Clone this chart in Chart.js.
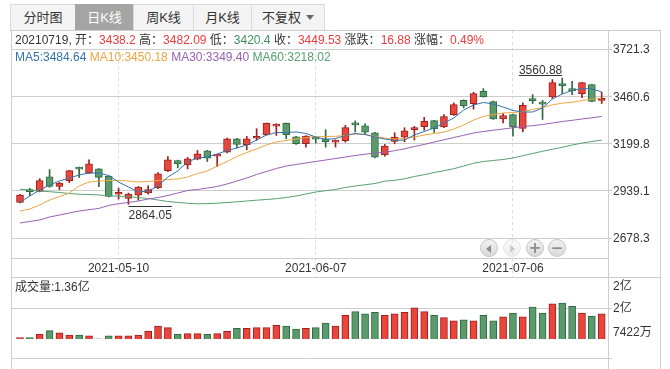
<!DOCTYPE html>
<html lang="zh-CN">
<head>
<meta charset="utf-8">
<title>日K线</title>
<script src="https://cdn.jsdelivr.net/npm/chart.js@4.4.1/dist/chart.umd.min.js"></script>
<style>
  html, body { margin: 0; padding: 0; background: #fff; }
  body { width: 670px; height: 369px; position: relative; overflow: hidden;
         font-family: "Liberation Sans", "Noto Sans CJK SC", sans-serif; font-size: 12px; color: #333; }
  canvas { position: absolute; left: 0; top: 0; }
  .tabs { position: absolute; left: 10px; top: 4px; height: 26px; display: flex; }
  .tab { box-sizing: border-box; height: 26px; line-height: 25px; border: 1px solid #dadada; border-bottom: none;
         margin-right: -1px; background: #f4f4f4; font-size: 13px; text-align: center; color: #333; }
  .tab.on { background: #a5a5a5; color: #fff; border-color: #a5a5a5; }
  .caret { display: inline-block; border-left: 4px solid transparent; border-right: 4px solid transparent;
           border-top: 5px solid #666; vertical-align: middle; margin-left: 5px; margin-top: -2px; }
  .row { position: absolute; left: 15px; white-space: nowrap; line-height: 14px; }
  .up { color: #ee3b3b; }
  .down { color: #3d8f5d; }
  .nav { position: absolute; top: 239px; width: 18px; height: 18px; box-sizing: border-box; border: 1px solid #c4c4c4;
         border-radius: 50%; background: linear-gradient(#f2f2f2, #d9d9d9); color: #8c8c8c;
         font: bold 15px/16px "DejaVu Sans", sans-serif; text-align: center; }
  .nav.off { opacity: .45; }
  .tri-l, .tri-r { display: inline-block; margin-top: 4px; border-top: 4px solid transparent; border-bottom: 4px solid transparent; }
  .tri-l { border-right: 5px solid #8c8c8c; margin-left: -1px; }
  .tri-r { border-left: 5px solid #8c8c8c; margin-left: 1px; }
</style>
</head>
<body>
<canvas id="kChart" width="670" height="369"></canvas>
<canvas id="volChart" width="670" height="369"></canvas>

<div class="tabs">
  <div class="tab" style="width:66px">分时图</div>
  <div class="tab on" style="width:59px">日K线</div>
  <div class="tab" style="width:61px">周K线</div>
  <div class="tab" style="width:59px">月K线</div>
  <div class="tab" style="width:74px">不复权<span class="caret"></span></div>
</div>
<div class="row" id="info" style="top:33px"></div>
<div class="row" id="maInfo" style="top:50px"></div>
<div class="row" id="volInfo" style="top:280px"></div>

<div class="nav" style="left:480px"><i class="tri-l"></i></div>
<div class="nav off" style="left:503px"><i class="tri-r"></i></div>
<div class="nav" style="left:526px">+</div>
<div class="nav" style="left:548px">&minus;</div>

<script>
'use strict';
// DATA
var dates = ['2021-04-21','2021-04-22','2021-04-23','2021-04-26','2021-04-27','2021-04-28','2021-04-29','2021-04-30',
  '2021-05-06','2021-05-07','2021-05-10','2021-05-11','2021-05-12','2021-05-13','2021-05-14',
  '2021-05-17','2021-05-18','2021-05-19','2021-05-20','2021-05-21',
  '2021-05-24','2021-05-25','2021-05-26','2021-05-27','2021-05-28','2021-05-31',
  '2021-06-01','2021-06-02','2021-06-03','2021-06-04',
  '2021-06-07','2021-06-08','2021-06-09','2021-06-10','2021-06-11',
  '2021-06-15','2021-06-16','2021-06-17','2021-06-18',
  '2021-06-21','2021-06-22','2021-06-23','2021-06-24','2021-06-25',
  '2021-06-28','2021-06-29','2021-06-30','2021-07-01','2021-07-02',
  '2021-07-05','2021-07-06','2021-07-07','2021-07-08','2021-07-09',
  '2021-07-12','2021-07-13','2021-07-14','2021-07-15','2021-07-16','2021-07-19'];

var openPx = [2874.6, 2937, 2935.7, 3015.2, 2963.4, 2994.8, 3061, 3037.4, 3059.5, 3020.7,
  2919.5, 2896.8, 2915.3, 2926.4, 2954.2, 3050.3, 3105.8, 3081.7, 3113.2, 3159.4,
  3129.8, 3152, 3226, 3192.7, 3229, 3248.1, 3296, 3311, 3237, 3198.2,
  3235.2, 3226, 3207, 3214.9, 3305.5, 3298, 3259.2, 3137.2, 3211.2, 3235.2,
  3276, 3292.5, 3325.8, 3290.7, 3359, 3438.6, 3420.2, 3488.2, 3431.2, 3335.8,
  3359.6, 3282.5, 3438.5, 3419, 3456.9, 3522, 3495, 3475.3, 3524.9, 3438.2];
var highPx = [2919, 2952.3, 3006, 3055.8, 2985, 3052, 3069, 3109.5, 3062, 3022,
  2954, 2926.4, 2962, 2967, 3039.2, 3128, 3108, 3123, 3161.2, 3162,
  3139, 3230, 3228, 3239, 3281.4, 3313, 3309, 3313, 3240, 3243,
  3237, 3276, 3220.4, 3300, 3324, 3309, 3261, 3194.5, 3259.2, 3287,
  3294.4, 3344.3, 3328, 3359, 3423.8, 3441, 3482.6, 3502.9, 3434, 3365.1,
  3362, 3423.9, 3469.8, 3438.6, 3552.4, 3560.88, 3543.2, 3538, 3527, 3482.09];
var lowPx = [2872, 2911.6, 2933, 2958, 2945, 2983.7, 3013, 3035, 2961.5, 2905,
  2893, 2864.05, 2887.6, 2920, 2950, 3045, 3065, 3059.5, 3110, 3100.2,
  3072.5, 3148, 3176, 3165, 3216.7, 3246, 3244.4, 3226, 3195, 3179.7,
  3202, 3179.7, 3179.7, 3207, 3263, 3248, 3120, 3129.8, 3198.2, 3209,
  3218.6, 3272.2, 3261, 3287, 3355, 3396.4, 3389, 3456, 3333, 3313.7,
  3240.3, 3264.2, 3420.2, 3332.1, 3447.8, 3475.3, 3469.8, 3453.3, 3430, 3420.4];
var closePx = [2915.3, 2934, 2994.8, 2963.4, 2981.9, 3050.3, 3058, 3087.3, 3013.3, 2907.9,
  2922, 2920.9, 2959.7, 2944.9, 3031.8, 3109.5, 3087.3, 3115, 3142.7, 3118.7,
  3137.2, 3226, 3194.5, 3226, 3232, 3311, 3298, 3248.1, 3198.2, 3240.7,
  3224.1, 3209.3, 3209, 3287, 3303, 3263, 3124.3, 3185.3, 3235.2, 3270.3,
  3283, 3322.1, 3281.4, 3348, 3414.6, 3407.4, 3475.3, 3458.8, 3335.8, 3354.1,
  3291.7, 3411, 3436, 3417, 3535.9, 3519, 3492, 3535.9, 3432.65, 3449.53];

var ma5 = [2877.0, 2910.1, 2943.2, 2970.8, 2992.9, 3009.4, 3026.0, 3037.0, 3037.0, 3023.2,
  2987.3, 2959.8, 2932.2, 2937.7, 2965.3, 3014.9, 3048.1, 3098.6, 3119.8, 3125.3,
  3141.9, 3161.2, 3175.0, 3191.5, 3219.1, 3246.7, 3260.5, 3260.5, 3263.3, 3255.0,
  3235.7, 3221.9, 3227.4, 3244.0, 3255.0, 3249.5, 3235.7, 3224.6, 3216.4, 3219.1,
  3246.7, 3266.0, 3285.3, 3312.9, 3340.5, 3384.7, 3412.3, 3426.1, 3417.8, 3401.2,
  3381.9, 3373.6, 3373.6, 3395.7, 3445.4, 3473.0, 3492.3, 3503.3, 3500.6, 3484.64];
var ma10 = [2827.3, 2838.3, 2860.4, 2888.0, 2907.3, 2926.6, 2965.3, 2987.3, 2992.9, 2995.6,
  2995.6, 2992.9, 2987.3, 2990.1, 2995.6, 3001.1, 3003.9, 3014.9, 3034.3, 3048.6,
  3075.2, 3100.2, 3128.1, 3150.1, 3169.5, 3191.5, 3208.1, 3216.4, 3224.6, 3232.9,
  3237.3, 3238.4, 3239.5, 3244.0, 3252.2, 3249.5, 3238.4, 3230.2, 3224.6, 3227.4,
  3235.7, 3246.7, 3255.0, 3263.3, 3279.8, 3301.9, 3329.5, 3348.8, 3359.8, 3368.1,
  3370.9, 3375.3, 3387.4, 3398.5, 3413.4, 3422.2, 3427.2, 3437.1, 3444.3, 3450.18];
var ma30 = [2761.1, 2769.4, 2777.6, 2794.2, 2805.2, 2816.3, 2827.3, 2834.5, 2841.7, 2857.7,
  2867.6, 2874.2, 2882.5, 2893.5, 2901.8, 2912.8, 2926.6, 2940.4, 2946.0, 2954.2,
  2962.5, 2976.3, 2992.9, 3009.4, 3028.7, 3045.3, 3061.8, 3075.6, 3083.9, 3092.2,
  3100.5, 3108.8, 3117.0, 3125.3, 3133.6, 3140.8, 3147.4, 3151.8, 3160.1, 3170.6,
  3183.3, 3194.3, 3208.1, 3220.2, 3232.9, 3245.1, 3257.8, 3266.0, 3273.2, 3279.8,
  3286.4, 3293.6, 3298.0, 3304.7, 3312.9, 3321.2, 3327.8, 3335.0, 3341.6, 3349.40];
var ma60 = [2947.6, 2943.2, 2937.7, 2933.8, 2929.4, 2923.9, 2920.0, 2918.4, 2915.6, 2911.7,
  2909.0, 2906.2, 2901.8, 2896.3, 2888.0, 2879.7, 2874.2, 2869.8, 2867.0, 2868.1,
  2870.4, 2874.2, 2878.1, 2882.5, 2886.9, 2890.8, 2895.2, 2901.8, 2910.1, 2921.1,
  2932.2, 2939.3, 2946.0, 2957.0, 2965.3, 2971.9, 2979.1, 2991.8, 2996.7, 3005.0,
  3017.7, 3027.6, 3039.8, 3049.7, 3060.7, 3075.6, 3090.5, 3100.5, 3106.0, 3111.5,
  3119.8, 3132.5, 3144.6, 3156.8, 3167.8, 3178.8, 3191.5, 3202.0, 3210.8, 3218.02];

// 成交量 (亿)
var volume = [0.78, 0.78, 0.855, 0.948, 0.892, 0.836, 0.836, 0.817, 0.748, 0.817,
  0.817, 0.817, 0.836, 0.929, 1.06, 1.023, 0.855, 0.873, 0.873, 0.855,
  0.873, 0.929, 1.004, 1.004, 1.023, 1.023, 1.079, 1.06, 0.986, 1.004,
  1.023, 1.135, 1.06, 1.322, 1.416, 1.36, 1.397, 1.322, 1.36, 1.397,
  1.51, 1.416, 1.322, 1.266, 1.191, 1.21, 1.191, 1.322, 1.191, 1.285,
  1.379, 1.285, 1.528, 1.379, 1.603, 1.622, 1.547, 1.379, 1.304, 1.36];

var dateTicks = ['2021-05-10', '2021-06-07', '2021-07-06'];
var priceTicks = [3721.3, 3460.55, 3199.8, 2939.05, 2678.3];
var priceTickLabels = ['3721.3', '3460.6', '3199.8', '2939.1', '2678.3'];
var volTickLabels = ['7422万', '2亿', '2亿'];

// COLORS
var FONT = '"Liberation Sans", "Noto Sans CJK SC", sans-serif';
var UP_FILL = '#e8463b', UP_LINE = '#9e1f1f';
var DN_FILL = '#5a9a6c', DN_LINE = '#2e6a3e';
var GRID = '#cdcdcd';
var MA_COLORS = ['#3473ad', '#eda53f', '#9a5fb4', '#56a070'];

Chart.defaults.font.family = FONT;
Chart.defaults.font.size = 12;
Chart.defaults.color = '#333';

var isUp = closePx.map(function(c, i) { return c >= openPx[i]; });
var fills = isUp.map(function(u) { return u ? UP_FILL : DN_FILL; });
var lines = isUp.map(function(u) { return u ? UP_LINE : DN_LINE; });

function pts(arr) {
  return arr.map(function(v, i) { return { x: i, y: v }; });
}

// HEADER TEXT
var last = dates.length - 1;
var chg = closePx[last] - closePx[last - 1];
document.getElementById('info').innerHTML =
  dates[last].replace(/-/g, '') + ', 开：<span class="up">' + openPx[last] + '</span>' +
  ' 高：<span class="up">' + highPx[last] + '</span>' +
  ' 低：<span class="down">' + lowPx[last] + '</span>' +
  ' 收：<span class="up">' + closePx[last] + '</span>' +
  ' 涨跌：<span class="up">' + chg.toFixed(2) + '</span>' +
  ' 涨幅：<span class="up">' + (chg / closePx[last - 1] * 100).toFixed(2) + '%</span>';
document.getElementById('maInfo').innerHTML = [['MA5', ma5], ['MA10', ma10], ['MA30', ma30], ['MA60', ma60]]
  .map(function(m, k) {
    return '<span style="color:' + MA_COLORS[k] + '">' + m[0] + ':' + m[1][last].toFixed(2) + '</span>';
  }).join(' ');
document.getElementById('volInfo').textContent = '成交量:' + volume[last] + '亿';

// X AXIS (shared) - offset off, otherwise bar charts pad the linear axis
function xAxis(show) {
  return {
    type: 'linear', min: -0.913, max: 59.64, display: show, offset: false,
    afterBuildTicks: function(s) {
      s.ticks = dateTicks.map(function(d) { return { value: dates.indexOf(d) }; });
    },
    ticks: { callback: function(v) { return dates[v]; }, padding: -16, maxRotation: 0, autoSkip: false },
    grid: { offset: false, color: '#dcdcdc', tickLength: 19, tickColor: '#dcdcdc', tickBorderDash: [3, 3] },
    border: { display: false, dash: [3, 3] },
    afterFit: function(s) { s.height = 19; }
  };
}

// HIGH / LOW LABELS
var hiLoLabel = {
  id: 'hiLoLabel',
  afterDatasetsDraw: function(chart) {
    var ctx = chart.ctx, xs = chart.scales.x, ys = chart.scales.y;
    var hi = Math.max.apply(null, highPx), lo = Math.min.apply(null, lowPx);
    var hiI = highPx.indexOf(hi), loI = lowPx.indexOf(lo);
    ctx.save();
    ctx.font = '12px ' + FONT;
    ctx.fillStyle = '#333';
    ctx.strokeStyle = '#333';
    ctx.lineWidth = 1;
    ctx.textBaseline = 'alphabetic';
    var t = hi.toFixed(2), w = ctx.measureText(t).width;
    var x = xs.getPixelForValue(hiI), y = ys.getPixelForValue(hi);
    ctx.fillText(t, x - w, y - 4.5);
    ctx.beginPath();
    ctx.moveTo(x - w, Math.round(y - 3) + 0.5);
    ctx.lineTo(x, Math.round(y - 3) + 0.5);
    ctx.stroke();
    t = lo.toFixed(2); w = ctx.measureText(t).width;
    x = xs.getPixelForValue(loI); y = ys.getPixelForValue(lo);
    ctx.fillText(t, x, y + 14.5);
    ctx.beginPath();
    ctx.moveTo(x, Math.round(y + 2) + 0.5);
    ctx.lineTo(x + w, Math.round(y + 2) + 0.5);
    ctx.stroke();
    ctx.restore();
  }
};

// FRAME LINES
var frame = {
  id: 'frame',
  afterDraw: function(chart) {
    var ctx = chart.ctx;
    var segs = [
      [11.5, 30, 11.5, 369], [608.5, 30, 608.5, 369], [660.5, 30, 660.5, 369],
      [10, 30.5, 661, 30.5], [11, 258.5, 608, 258.5], [11, 277.5, 661, 277.5], [11, 358.5, 612, 358.5]
    ];
    ctx.save();
    ctx.strokeStyle = GRID;
    ctx.lineWidth = 1;
    segs.forEach(function(s) {
      ctx.beginPath();
      ctx.moveTo(s[0], s[1]);
      ctx.lineTo(s[2], s[3]);
      ctx.stroke();
    });
    ctx.restore();
  }
};

// K CHART
var kChart = new Chart(document.getElementById('kChart'), {
  type: 'bar',
  data: {
    datasets: [
      { label: 'MA5', type: 'line', data: pts(ma5), borderColor: MA_COLORS[0], borderWidth: 1, pointRadius: 0, order: 1 },
      { label: 'MA10', type: 'line', data: pts(ma10), borderColor: MA_COLORS[1], borderWidth: 1, pointRadius: 0, order: 1 },
      { label: 'MA30', type: 'line', data: pts(ma30), borderColor: MA_COLORS[2], borderWidth: 1, pointRadius: 0, order: 1 },
      { label: 'MA60', type: 'line', data: pts(ma60), borderColor: MA_COLORS[3], borderWidth: 1, pointRadius: 0, order: 1 },
      {
        label: 'body',
        data: openPx.map(function(o, i) { return { x: i, y: [o, closePx[i]] }; }),
        backgroundColor: fills, borderColor: lines, borderWidth: 1, borderSkipped: false,
        barThickness: 7, minBarLength: 2, grouped: false, order: 2
      },
      {
        label: 'wick',
        data: lowPx.map(function(l, i) { return { x: i, y: [l, highPx[i]] }; }),
        backgroundColor: lines, borderWidth: 0, barThickness: 1, grouped: false, order: 3
      }
    ]
  },
  options: {
    responsive: false,
    animation: false,
    events: [],
    layout: { padding: { left: 11, top: 30, right: 10, bottom: 92 } },
    plugins: { legend: { display: false }, tooltip: { enabled: false } },
    scales: {
      x: xAxis(true),
      y: {
        position: 'right', min: 2567.94, max: 3826.16,
        afterBuildTicks: function(s) { s.ticks = priceTicks.map(function(v) { return { value: v }; }); },
        ticks: { callback: function(v, i) { return priceTickLabels[i]; }, padding: 1, labelOffset: 1 },
        grid: { color: GRID, tickLength: 4, tickColor: GRID },
        border: { display: false },
        afterFit: function(s) { s.width = 52; }
      }
    }
  },
  plugins: [hiLoLabel]
});

// VOLUME CHART
var volChart = new Chart(document.getElementById('volChart'), {
  type: 'bar',
  data: {
    datasets: [{
      label: '成交量',
      data: pts(volume),
      backgroundColor: fills, borderColor: lines, borderWidth: 1,
      barThickness: 7, grouped: false
    }]
  },
  options: {
    responsive: false,
    animation: false,
    events: [],
    layout: { padding: { left: 11, top: 277, right: 10, bottom: 11 } },
    plugins: { legend: { display: false }, tooltip: { enabled: false } },
    scales: {
      x: xAxis(false),
      y: {
        position: 'right', min: 0.7422, max: 2.265,
        afterBuildTicks: function(s) {
          var r = s.max - s.min;
          // 上下两个标签贴着边框内侧
          s.ticks = [{ value: s.min + r * 10 / 81 }, { value: (s.min + s.max) / 2 }, { value: s.max - r * 12 / 81 }];
        },
        ticks: { callback: function(v, i) { return volTickLabels[i]; }, padding: 1, labelOffset: 1 },
        grid: {
          color: function(c) { return c.index === 1 ? GRID : 'rgba(0,0,0,0)'; },
          tickLength: 4
        },
        border: { display: false },
        afterFit: function(s) { s.width = 52; }
      }
    }
  },
  plugins: [frame]
});
</script>
</body>
</html>
